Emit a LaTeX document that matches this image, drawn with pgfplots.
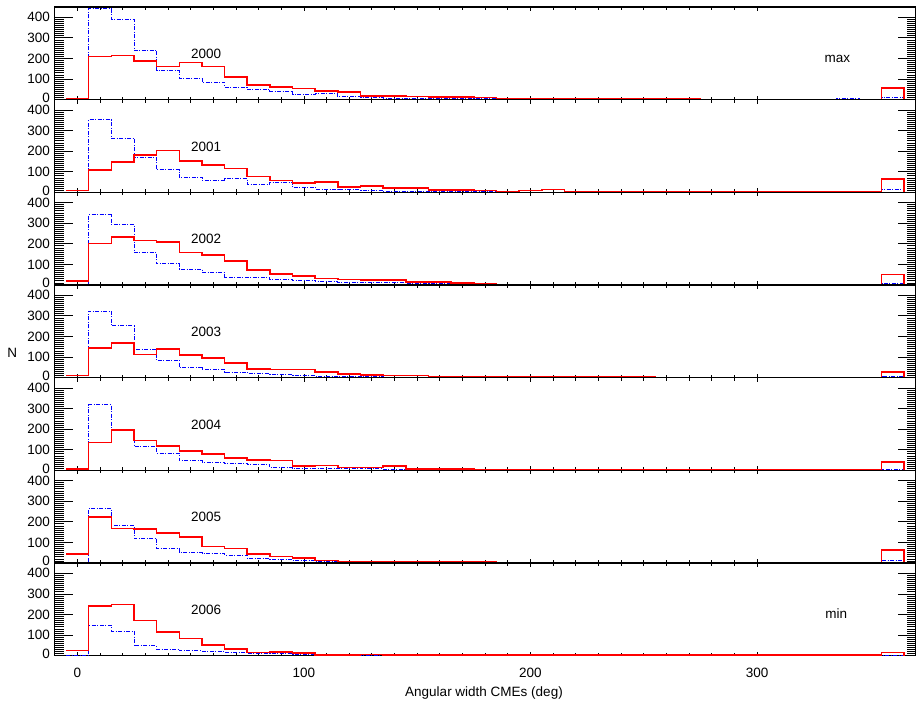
\documentclass[border=0pt]{standalone}
\usepackage{fontspec}
\setmainfont{Liberation Sans}
\usepackage{pgfplots}
\usepackage{pgfplotstable}
\pgfplotsset{compat=1.18}

\pgfplotstableread[row sep=\\]{
x r b\\
-5 5 0\\ 5 210 441\\ 15 215 389\\ 25 189 239\\ 35 162 140\\ 45 181 103\\ 55 162 85\\ 65 111 61\\ 75 71 51\\ 85 61 42\\
95 55 24\\ 105 43 28\\ 115 38 15\\ 125 19 12\\ 135 18 8\\ 145 15 6\\ 155 12 5\\ 165 13 5\\ 175 10 4\\ 185 3 2\\
195 5 1\\ 205 5 1\\ 215 3 1\\ 225 2 1\\ 235 2 1\\ 245 2 1\\ 255 2 1\\ 265 2 1\\ 275 1 1\\ 285 1 1\\
295 1 1\\ 305 1 1\\ 315 1 1\\ 325 1 1\\ 335 1 8\\ 345 1 2\\ 355 58 11\\ 365 0 0\\
}\tA
\pgfplotstableread[row sep=\\]{
x r b\\
-5 8 0\\ 5 108 352\\ 15 147 263\\ 25 182 168\\ 35 203 110\\ 45 153 72\\ 55 132 56\\ 65 116 66\\ 75 77 40\\ 85 58 50\\
95 46 25\\ 105 51 16\\ 115 26 13\\ 125 32 9\\ 135 21 5\\ 145 22 4\\ 155 11 3\\ 165 11 3\\ 175 8 2\\ 185 3 2\\
195 8 1\\ 205 13 1\\ 215 2 1\\ 225 2 1\\ 235 2 1\\ 245 2 1\\ 255 1 1\\ 265 1 1\\ 275 1 1\\ 285 1 1\\
295 1 1\\ 305 1 1\\ 315 1 1\\ 325 1 1\\ 335 1 1\\ 345 1 1\\ 355 64 13\\ 365 0 0\\
}\tB
\pgfplotstableread[row sep=\\]{
x r b\\
-5 19 0\\ 5 202 342\\ 15 234 295\\ 25 216 158\\ 35 208 103\\ 45 157 77\\ 55 147 63\\ 65 118 37\\ 75 74 37\\ 85 53 27\\
95 45 24\\ 105 31 15\\ 115 27 13\\ 125 24 13\\ 135 24 13\\ 145 15 8\\ 155 15 8\\ 165 10 5\\ 175 6 3\\ 185 3 2\\
195 3 1\\ 205 2 1\\ 215 2 1\\ 225 2 1\\ 235 2 1\\ 245 2 1\\ 255 1 1\\ 265 1 1\\ 275 1 1\\ 285 1 1\\
295 1 1\\ 305 1 1\\ 315 1 1\\ 325 1 1\\ 335 1 1\\ 345 1 1\\ 355 52 8\\ 365 0 0\\
}\tC
\pgfplotstableread[row sep=\\]{
x r b\\
-5 10 0\\ 5 145 324\\ 15 169 252\\ 25 113 135\\ 35 140 84\\ 45 110 48\\ 55 97 40\\ 65 72 27\\ 75 43 19\\ 85 39 16\\
95 39 10\\ 105 27 8\\ 115 18 6\\ 125 14 4\\ 135 10 3\\ 145 10 2\\ 155 6 2\\ 165 6 2\\ 175 3 1\\ 185 3 1\\
195 6 1\\ 205 2 1\\ 215 2 1\\ 225 2 1\\ 235 5 1\\ 245 2 1\\ 255 1 1\\ 265 1 1\\ 275 1 1\\ 285 1 1\\
295 1 1\\ 305 1 1\\ 315 1 1\\ 325 1 1\\ 335 1 1\\ 345 1 1\\ 355 29 8\\ 365 0 0\\
}\tD
\pgfplotstableread[row sep=\\]{
x r b\\
-5 6 0\\ 5 135 319\\ 15 195 192\\ 25 145 118\\ 35 119 82\\ 45 93 47\\ 55 80 40\\ 65 61 34\\ 75 51 29\\ 85 47 13\\
95 22 8\\ 105 24 8\\ 115 14 10\\ 125 14 8\\ 135 22 4\\ 145 6 3\\ 155 6 2\\ 165 8 2\\ 175 3 1\\ 185 2 1\\
195 2 1\\ 205 2 1\\ 215 2 1\\ 225 2 1\\ 235 1 1\\ 245 1 1\\ 255 1 1\\ 265 1 1\\ 275 1 1\\ 285 1 1\\
295 1 1\\ 305 1 1\\ 315 1 1\\ 325 1 1\\ 335 1 1\\ 345 1 1\\ 355 42 2\\ 365 0 0\\
}\tE
\pgfplotstableread[row sep=\\]{
x r b\\
-5 43 0\\ 5 223 266\\ 15 168 182\\ 25 164 121\\ 35 145 71\\ 45 126 53\\ 55 81 47\\ 65 71 39\\ 75 43 24\\ 85 32 18\\
95 24 13\\ 105 13 8\\ 115 8 6\\ 125 8 4\\ 135 8 3\\ 145 5 2\\ 155 5 2\\ 165 5 1\\ 175 5 1\\ 185 3 1\\
195 2 1\\ 205 2 1\\ 215 2 1\\ 225 2 1\\ 235 1 1\\ 245 1 1\\ 255 1 1\\ 265 1 1\\ 275 1 1\\ 285 1 1\\
295 1 1\\ 305 1 1\\ 315 1 1\\ 325 1 1\\ 335 1 1\\ 345 1 1\\ 355 63 13\\ 365 0 0\\
}\tF
\pgfplotstableread[row sep=\\]{
x r b\\
-5 26 0\\ 5 240 147\\ 15 249 120\\ 25 170 48\\ 35 115 32\\ 45 84 24\\ 55 52 21\\ 65 32 18\\ 75 16 12\\ 85 18 10\\
95 13 7\\ 105 4 4\\ 115 4 3\\ 125 6 2\\ 135 3 1\\ 145 2 1\\ 155 2 1\\ 165 2 1\\ 175 2 1\\ 185 2 1\\
195 2 1\\ 205 2 1\\ 215 2 1\\ 225 2 1\\ 235 2 1\\ 245 2 1\\ 255 2 1\\ 265 2 1\\ 275 2 1\\ 285 2 1\\
295 2 1\\ 305 2 1\\ 315 2 1\\ 325 2 1\\ 335 2 1\\ 345 2 1\\ 355 16 3\\ 365 0 0\\
}\tG

\newcommand{\lbl}{\fontsize{13.5}{15}\selectfont}

\pgfplotsset{
  panel/.style={
    anchor=south west,
    scale only axis,
    width=860.9pt, height=92.67pt,
    xmin=-10, xmax=370, ymin=0, ymax=450,
    xtick={0,100,200,300}, minor x tick num=9,
    ytick={0,100,200,300,400}, minor y tick num=9,
    yticklabels={\raisebox{4pt}{0},100,200,300,\raisebox{-1.5pt}{400}},
    tick align=inside,
    ytick style={/pgfplots/major tick length=18pt,/pgfplots/minor tick length=9pt},
    xtick style={/pgfplots/major tick length=4pt,/pgfplots/minor tick length=3pt},
    every tick/.style={black, line width=0.8pt},
    axis line style={black, line width=1.2pt},
    tick label style={font=\lbl},
    /pgf/number format/assume math mode=true,
    yticklabel style={anchor=east, inner sep=0pt, xshift=-4.5pt},
    xticklabels={},
    clip=false,
  },
  redline/.style={red, line width=1.6pt, const plot mark left, no marks},
  blueline/.style={blue, line width=0.9pt, const plot mark left, no marks,
     dash pattern=on 4pt off 1.5pt on 1pt off 1.5pt},
}

\newcommand{\panel}[5]{%
\begin{axis}[panel, at={(54.7pt,#1)}, #5]
\addplot[blueline] table[x=x,y=b] {#2};
\addplot[redline] table[x=x,y=r] {#2};
\node[font=\lbl] at (axis cs:56.8,222) {#3};
#4
\end{axis}}

\begin{document}
\begin{tikzpicture}
\useasboundingbox (0pt,0pt) rectangle (917pt,702pt);
\panel{602.33pt}{\tA}{2000}{\node[font=\lbl] at (axis cs:335.5,200) {max};}{}
\panel{509.66pt}{\tB}{2001}{}{}
\panel{416.99pt}{\tC}{2002}{}{}
\panel{324.32pt}{\tD}{2003}{}{}
\panel{231.65pt}{\tE}{2004}{}{}
\panel{138.98pt}{\tF}{2005}{}{}
\panel{46.31pt}{\tG}{2006}{\node[font=\lbl] at (axis cs:335,202) {min};}{xticklabels={0,100,200,300}, xticklabel style={anchor=center, inner sep=0pt, yshift=-17.3pt}}
\node[font=\lbl] at (12.3pt,349.3pt) {N};
\node[font=\lbl, anchor=base] at (484pt,6pt) {Angular width CMEs (deg)};
\end{tikzpicture}
\end{document}
